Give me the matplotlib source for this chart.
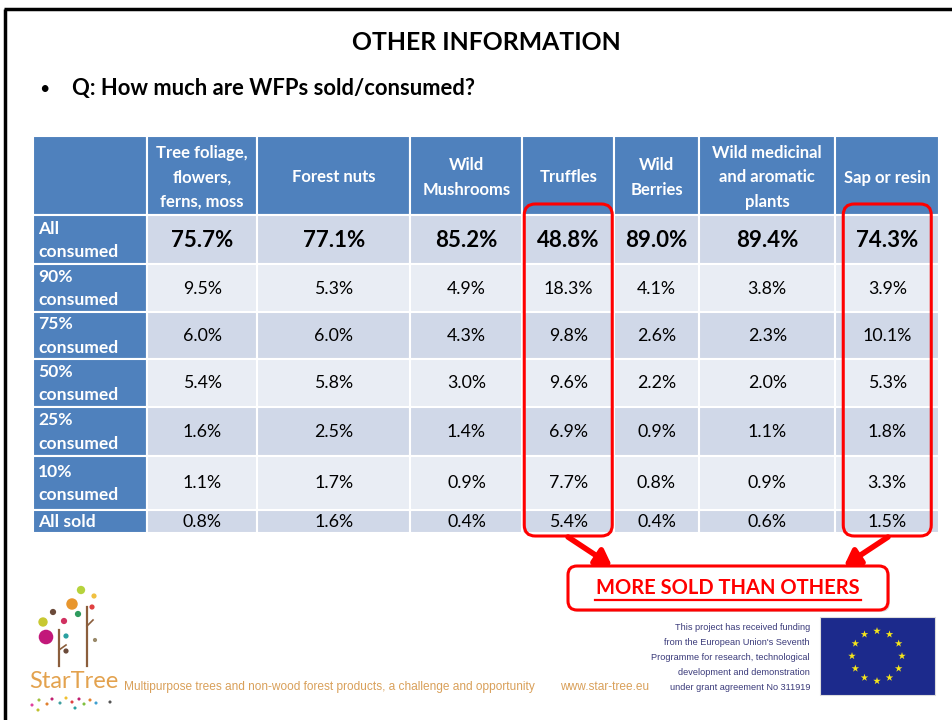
import numpy as np
import matplotlib
matplotlib.use("Agg")
import matplotlib.pyplot as plt
from matplotlib.patches import Rectangle, FancyBboxPatch

# ---------------- data ----------------
title = "OTHER INFORMATION"
question = "Q: How much are WFPs sold/consumed?"
columns = ["Tree foliage,\nflowers,\nferns, moss", "Forest nuts", "Wild\nMushrooms",
           "Truffles", "Wild\nBerries", "Wild medicinal\nand aromatic\nplants", "Sap or resin"]
row_labels = ["All\nconsumed", "90%\nconsumed", "75%\nconsumed", "50%\nconsumed",
              "25%\nconsumed", "10%\nconsumed", "All sold"]
all_consumed = [75.7, 77.1, 85.2, 48.8, 89.0, 89.4, 74.3]
consumed_90 = [9.5, 5.3, 4.9, 18.3, 4.1, 3.8, 3.9]
consumed_75 = [6.0, 6.0, 4.3, 9.8, 2.6, 2.3, 10.1]
consumed_50 = [5.4, 5.8, 3.0, 9.6, 2.2, 2.0, 5.3]
consumed_25 = [1.6, 2.5, 1.4, 6.9, 0.9, 1.1, 1.8]
consumed_10 = [1.1, 1.7, 0.9, 7.7, 0.8, 0.9, 3.3]
all_sold = [0.8, 1.6, 0.4, 5.4, 0.4, 0.6, 1.5]
rows = [all_consumed, consumed_90, consumed_75, consumed_50, consumed_25, consumed_10, all_sold]
highlight_cols = ["Truffles", "Sap or resin"]
callout = "MORE SOLD THAN OTHERS"

# ---------------- layout ----------------
FONT = ["Lato", "DejaVu Sans"]
NARROW = ["Liberation Sans Narrow", "Liberation Sans", "DejaVu Sans"]
col_edges = [33, 147.5, 257, 410.5, 522.5, 614, 699, 835.5, 939]
row_edges = [136, 215, 263.5, 311.5, 358.5, 406.5, 455.5, 509.5, 533]
BLUE = "#4F81BD"
ODD = "#D0D8E8"
EVEN = "#E9EDF4"
RED = "#FF0000"

fig = plt.figure(figsize=(9.53, 7.2), dpi=100)
ax = fig.add_axes([0, 0, 1, 1])
ax.set_xlim(0, 953)
ax.set_ylim(720, 0)
ax.axis("off")

# slide frame
ax.plot([5, 5], [720, 9], color="black", lw=2.5, solid_capstyle="butt")
ax.plot([4, 953], [9, 9], color="black", lw=2.5, solid_capstyle="butt")

ax.text(486, 43, title, ha="center", va="center", fontsize=17.8, fontweight="bold",
        family=FONT, color="black")
ax.text(44, 89, "\u2022", ha="center", va="center", fontsize=13, family=FONT)
ax.text(72, 89, question, ha="left", va="center", fontsize=15.8, fontweight="bold",
        family=FONT, color="black")

# header row
for j in range(len(col_edges) - 1):
    x0, x1 = col_edges[j], col_edges[j + 1]
    ax.add_patch(Rectangle((x0, row_edges[0]), x1 - x0, row_edges[1] - row_edges[0],
                           facecolor=BLUE, edgecolor="white", lw=1.5))
    if j > 0:
        ax.text((x0 + x1) / 2, (row_edges[0] + row_edges[1]) / 2 + 2, columns[j - 1],
                ha="center", va="center", fontsize=12, fontweight="bold", color="white",
                family=FONT, linespacing=1.62)

# body rows
for i, vals in enumerate(rows):
    y0, y1 = row_edges[i + 1], row_edges[i + 2]
    fc = ODD if i % 2 == 0 else EVEN
    ax.add_patch(Rectangle((col_edges[0], y0), col_edges[1] - col_edges[0], y1 - y0,
                           facecolor=BLUE, edgecolor="white", lw=1.5))
    ax.text(col_edges[0] + 5, (y0 + y1) / 2 + 1, row_labels[i], ha="left", va="center",
            fontsize=12.6, fontweight="bold", color="white", family=FONT, linespacing=1.55)
    for j, v in enumerate(vals):
        x0, x1 = col_edges[j + 1], col_edges[j + 2]
        ax.add_patch(Rectangle((x0, y0), x1 - x0, y1 - y0, facecolor=fc,
                               edgecolor="white", lw=1.5))
        big = (i == 0)
        ax.text((x0 + x1) / 2, (y0 + y1) / 2 + 1, f"{v:.1f}%", ha="center", va="center",
                fontsize=16 if big else 12.8, fontweight="bold" if big else "normal",
                color="black", family=FONT)

# highlight boxes
for name in highlight_cols:
    j = columns.index(name)
    x0, x1 = col_edges[j + 1], col_edges[j + 2]
    cx = (x0 + x1) / 2
    w = 88
    ax.add_patch(FancyBboxPatch((cx - w / 2, 204), w, 332,
                                boxstyle="round,pad=0,rounding_size=11",
                                facecolor="none", edgecolor=RED, lw=2.2, zorder=5))

# callout box
cb_x0, cb_x1, cb_y0, cb_y1 = 568, 888, 566, 610
ax.add_patch(FancyBboxPatch((cb_x0 + 2, cb_y0 + 2), cb_x1 - cb_x0, cb_y1 - cb_y0,
                            boxstyle="round,pad=0,rounding_size=9",
                            facecolor="#dddddd", edgecolor="none", zorder=4))
ax.add_patch(FancyBboxPatch((cb_x0, cb_y0), cb_x1 - cb_x0, cb_y1 - cb_y0,
                            boxstyle="round,pad=0,rounding_size=9",
                            facecolor="white", edgecolor=RED, lw=2.2, zorder=5))
ax.text((cb_x0 + cb_x1) / 2, 588, callout, ha="center", va="center", fontsize=14.5,
        fontweight="bold", color=RED, family=FONT, zorder=6)
ax.plot([595, 861], [600, 600], color=RED, lw=1.6, zorder=6)

# arrows
ax.annotate("", xy=(612, 566), xytext=(568, 537),
            arrowprops=dict(arrowstyle="-|>,head_width=0.55,head_length=0.9",
                            color=RED, lw=4, shrinkA=0, shrinkB=0), zorder=6)
ax.annotate("", xy=(844, 566), xytext=(888, 537),
            arrowprops=dict(arrowstyle="-|>,head_width=0.55,head_length=0.9",
                            color=RED, lw=4, shrinkA=0, shrinkB=0), zorder=6)

# ---------------- footer ----------------
# StarTree logo (simple sketch)
BROWN = "#8B5E3C"
ax.plot([59, 59], [666, 630], color=BROWN, lw=1.6)
ax.plot([59, 66], [650, 645], color=BROWN, lw=1.2)
ax.plot([87, 87], [666, 607], color=BROWN, lw=1.6)
ax.plot([87, 93], [626, 620], color=BROWN, lw=1.2)
dots = [(46, 637, 7, "#C2187A"), (43, 622, 4.5, "#C8C832"), (53, 612, 3, "#6B4A3A"),
        (64, 621, 3, "#D03060"), (66, 636, 2.5, "#2AA0A0"), (72, 604, 5.5, "#E8962E"),
        (81, 590, 4, "#B6D33C"), (78, 614, 3, "#2E9B5E"), (92, 607, 2.5, "#E04040"),
        (94, 596, 2.5, "#F0C040"), (66, 651, 2.5, "#6B4A3A"), (95, 640, 2, "#9A8A6A")]
for (dx, dy, r, c) in dots:
    ax.scatter([dx], [dy], s=(r * 1.5) ** 2, color=c, edgecolors="none", zorder=3)
ax.text(29, 681, "StarTree", ha="left", va="center", fontsize=17, color="#E3A24E",
        family=["Lato", "DejaVu Sans"])
small_dots = [(32, 705, "#E040A0"), (39, 700, "#A0C040"), (47, 704, "#E08030"),
              (52, 699, "#C02070"), (60, 703, "#40A0A0"), (66, 698, "#F0C030"),
              (72, 702, "#E04040"), (79, 699, "#C02070"), (84, 704, "#80C040"),
              (90, 700, "#E08030"), (96, 703, "#40A0D0"), (110, 702, "#555555"),
              (38, 710, "#C0C030"), (75, 708, "#2AA0A0")]
for (dx, dy, c) in small_dots:
    ax.scatter([dx], [dy], s=5, color=c, edgecolors="none")

ax.text(124, 687, "Multipurpose trees and non-wood forest products, a challenge and opportunity",
        ha="left", va="center", fontsize=8.55, color="#D9A05A", family=NARROW)
ax.text(560, 687, "www.star-tree.eu", ha="left", va="center", fontsize=8.6,
        color="#D9A05A", family=NARROW)
fund_lines = ["This project has received funding", "from the European Union's Seventh",
              "Programme for research, technological", "development and demonstration",
              "under grant agreement No 311919"]
for k, line in enumerate(fund_lines):
    ax.text(810, 628 + 14.8 * k, line, ha="right", va="center", fontsize=6.6,
            color="#3A3A7A", family=NARROW)

# EU flag
ax.add_patch(Rectangle((820, 617), 115, 78, facecolor="#1C2A8C", edgecolor="#dddddd", lw=0.8))
ang = np.linspace(0, 2 * np.pi, 13)[:-1]
ax.scatter(877 + 25 * np.cos(ang), 656 + 25 * np.sin(ang), marker="*", s=32,
           color="#F5E51B", edgecolors="none", zorder=4)

fig.savefig("out.png", dpi=100)
